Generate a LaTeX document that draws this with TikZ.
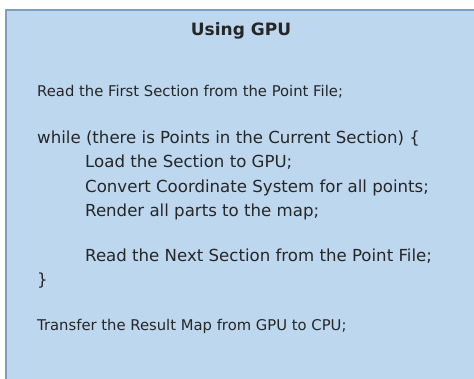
\documentclass[tikz,border=0pt]{standalone}
\usepackage{fontspec}
\setmainfont{DejaVu Sans}
\definecolor{boxfill}{HTML}{BDD7EE}
\definecolor{boxline}{HTML}{7F9DBF}
\definecolor{codetext}{HTML}{262626}
\tikzstyle{code}=[anchor=base west,inner sep=0pt,text=codetext,font=\fontsize{14.8}{18}\selectfont]
\tikzstyle{loopcode}=[code,font=\fontsize{16.6}{20}\selectfont]
\tikzstyle{heading}=[anchor=base,inner sep=0pt,text=codetext,font=\fontsize{17}{20}\selectfont\bfseries]

\begin{document}
\begin{tikzpicture}[x=1pt,y=-1pt]
        \clip (0,0) rectangle (474,378);
        \fill[white] (0,0) rectangle (474,378);
        \draw[fill=boxfill,draw=boxline,line width=1.5pt] (6,10) rectangle (490,395);
        \node[heading] (title) at (241,35) {Using GPU};
        \node[code] (readfirst) at (37,96) {Read the First Section from the Point File;};
        % loop body is set a little larger
        \node[loopcode] (whileline) at (37,143) {while (there is Points in the Current Section) \{};
        \node[loopcode] (load) at (85,167) {Load the Section to GPU;};
        \node[loopcode] (convert) at (85,192) {Convert Coordinate System for all points;};
        \node[loopcode] (render) at (85,216) {Render all parts to the map;};
        \node[loopcode] (readnext) at (85,261) {Read the Next Section from the Point File;};
        \node[loopcode] (closing) at (37,285) {\}};
        \node[code] (transfer) at (37,330) {Transfer the Result Map from GPU to CPU;};
      \end{tikzpicture}
\end{document}
